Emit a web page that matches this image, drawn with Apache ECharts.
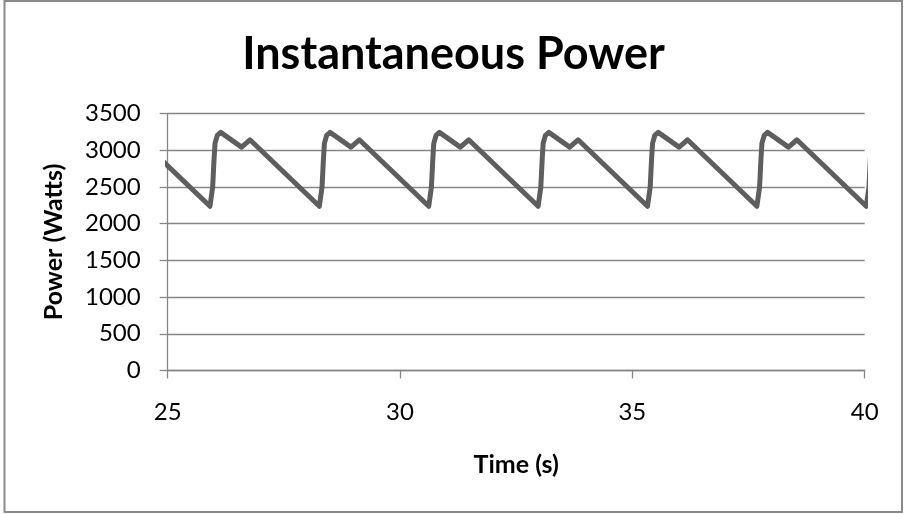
<!DOCTYPE html>
<html>
<head>
<meta charset="utf-8">
<script src="https://cdn.jsdelivr.net/npm/echarts@6/dist/echarts.min.js"></script>
<style>
  html, body { margin: 0; padding: 0; background: #fff; }
  #chart { width: 907px; height: 514px; }
</style>
</head>
<body>
<div id="chart"></div>
<script>
// Sampled instantaneous power over time (seconds, watts)
const timeSeconds = [
  24.416,
  25.910, 25.968, 25.996, 26.018, 26.067, 26.140, 26.590, 26.770,
  28.264, 28.322, 28.350, 28.372, 28.421, 28.494, 28.944, 29.124,
  30.618, 30.676, 30.704, 30.726, 30.775, 30.848, 31.298, 31.478,
  32.972, 33.030, 33.058, 33.080, 33.129, 33.202, 33.652, 33.832,
  35.326, 35.384, 35.412, 35.434, 35.483, 35.556, 36.006, 36.186,
  37.680, 37.738, 37.766, 37.788, 37.837, 37.910, 38.360, 38.540,
  40.034, 40.092, 40.120, 40.142, 40.191
];
const powerWatts = [
  3140,
  2235, 2500, 2860, 3090, 3200, 3240, 3040, 3140,
  2235, 2500, 2860, 3090, 3200, 3240, 3040, 3140,
  2235, 2500, 2860, 3090, 3200, 3240, 3040, 3140,
  2235, 2500, 2860, 3090, 3200, 3240, 3040, 3140,
  2235, 2500, 2860, 3090, 3200, 3240, 3040, 3140,
  2235, 2500, 2860, 3090, 3200, 3240, 3040, 3140,
  2235, 2500, 2860, 3090, 3200
];

const chartTitle = 'Instantaneous Power';
const xAxisTitle = 'Time (s)';
const yAxisTitle = 'Power (Watts)';

const points = timeSeconds.map((t, i) => [t, powerWatts[i]]);

const chart = echarts.init(document.getElementById('chart'), null, { renderer: 'canvas' });
const font = 'Lato, "Open Sans", sans-serif';
const gray = '#868686';

chart.setOption({
  animation: false,
  backgroundColor: '#fff',
  textStyle: { fontFamily: font },
  title: {
    text: chartTitle,
    left: 'center',
    top: 27,
    textStyle: { fontFamily: font, fontSize: 45, fontWeight: 'bold', color: '#000' }
  },
  graphic: [{
    type: 'rect',
    shape: { x: 4.5, y: 1, width: 897.5, height: 511 },
    style: { fill: 'none', stroke: '#8a8a8a', lineWidth: 2 },
    silent: true
  }],
  grid: { left: 167.7, right: 42.3, top: 113.3, bottom: 143.5, containLabel: false },
  xAxis: {
    type: 'value',
    min: 25, max: 40, interval: 5,
    name: xAxisTitle,
    nameLocation: 'middle',
    nameGap: 82,
    nameTextStyle: { fontFamily: font, fontSize: 25, fontWeight: 'bold', color: '#000' },
    axisLine: { show: true, onZero: false, lineStyle: { color: gray, width: 1.3 } },
    axisTick: { show: true, length: 8, inside: false, lineStyle: { color: gray, width: 1.3 } },
    axisLabel: { margin: 30, fontSize: 24, color: '#000', fontFamily: font, formatter: v => String(v) },
    splitLine: { show: false }
  },
  yAxis: {
    type: 'value',
    min: 0, max: 3500, interval: 500,
    name: yAxisTitle,
    nameLocation: 'middle',
    nameRotate: 90,
    nameGap: 101,
    nameTextStyle: { fontFamily: font, fontSize: 25, fontWeight: 'bold', color: '#000' },
    axisLine: { show: true, lineStyle: { color: gray, width: 1.3 } },
    axisTick: { show: true, length: 8, lineStyle: { color: gray, width: 1.3 } },
    axisLabel: { margin: 27, fontSize: 24, color: '#000', fontFamily: font, formatter: v => String(v) },
    splitLine: { show: true, lineStyle: { color: gray, width: 1.3 } }
  },
  series: [{
    type: 'line',
    data: points,
    showSymbol: false,
    clip: true,
    smooth: false,
    lineStyle: { color: '#5e5e5e', width: 5, join: 'round', cap: 'round' }
  }]
});
</script>
</body>
</html>
